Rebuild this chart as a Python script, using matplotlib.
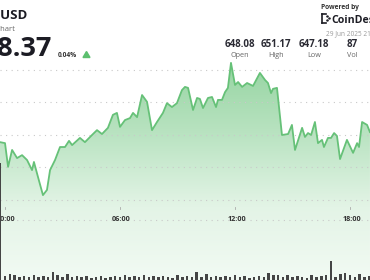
import numpy as np
import matplotlib
matplotlib.use("Agg")
import matplotlib.pyplot as plt
from matplotlib.colors import LinearSegmentedColormap
from matplotlib.patches import Polygon
import matplotlib.transforms as mtransforms

# ---------------- data ----------------
hours = [-0.26, 0.00, 0.16, 0.37, 0.63, 0.89, 1.15, 1.41, 1.51, 1.72, 1.98, 2.19, 2.35, 2.61,
         2.87, 3.13, 3.34, 3.50, 3.91, 4.17, 4.54, 4.80, 5.06, 5.37, 5.63, 5.84, 6.00, 6.26,
         6.52, 6.68, 6.89, 7.15, 7.41, 7.67, 7.93, 8.24, 8.45, 8.71, 8.97, 9.23, 9.39, 9.55,
         9.81, 10.02, 10.17, 10.33, 10.59, 10.80, 11.01, 11.11, 11.32, 11.48, 11.63, 11.79,
         12.00, 12.16, 12.37, 12.63, 12.94, 13.30, 13.57, 13.72, 13.88, 13.98, 14.19, 14.45,
         14.77, 14.97, 15.13, 15.50, 15.65, 15.81, 15.97, 16.17, 16.33, 16.54, 16.64, 16.85,
         17.01, 17.17, 17.32, 17.48, 17.84, 18.16, 18.37, 18.47, 18.63, 18.89, 19.04]
prices = [648.78, 648.75, 648.02, 648.54, 648.29, 648.38, 648.23, 647.92, 648.17, 647.71,
          647.15, 647.31, 647.92, 648.23, 648.63, 648.63, 648.82, 648.69, 648.91, 648.78,
          649.00, 649.15, 649.03, 649.22, 649.62, 649.68, 649.25, 649.46, 649.52, 649.68,
          649.55, 650.23, 650.02, 649.15, 649.40, 649.68, 649.98, 649.86, 649.98, 650.38,
          650.48, 650.45, 649.77, 650.14, 650.11, 649.83, 650.14, 650.17, 649.86, 650.08,
          650.08, 650.32, 650.45, 651.22, 650.54, 650.63, 650.48, 650.60, 650.51, 650.91,
          650.69, 650.60, 650.29, 650.42, 650.45, 649.00, 649.03, 649.31, 648.54, 649.22,
          648.94, 649.06, 649.00, 649.40, 648.75, 648.85, 648.63, 648.91, 648.91, 649.06,
          648.97, 648.26, 648.85, 648.45, 648.75, 648.63, 649.40, 649.31, 649.09]

volumes = [117, 4, 6, 5, 3, 4, 3, 5, 3, 4, 3, 8, 5, 3, 6, 3, 4, 3, 4, 2,
           3, 4, 2, 3, 4, 3, 5, 3, 4, 3, 5, 3, 4, 3, 4, 3, 2, 5, 3, 4,
           3, 8, 3, 6, 3, 4, 3, 4, 3, 5, 3, 4, 2, 3, 4, 3, 7, 5, 5, 3,
           5, 3, 4, 3, 2, 5, 3, 4, 5, 19, 3, 6, 7, 5, 3, 6, 3, 4]
vol_hours = np.arange(len(volumes)) * 0.25 - 0.25

grid_prices = [647, 648, 649, 650, 651]
tick_hours = [0, 6, 12, 18]
tick_labels = ["00:00", "06:00", "12:00", "18:00"]

title = "BNB-USD"
subtitle = "Price Chart"
last_price = "648.37"
change = "0.04%"
stat_values = ["648.08", "651.17", "647.18", "87"]
stat_names = ["Open", "High", "Low", "Vol"]

# ---------------- figure ----------------
W, H = 370, 280
fig = plt.figure(figsize=(W / 100, H / 100), dpi=100)
fig.patch.set_facecolor("white")

ax = fig.add_axes([0, 0, 1, 1])
ax.set_xlim(-0.261, 19.043)
ax.set_ylim(644.538, 653.154)
ax.axis("off")

line_col = "#66c178"

# gradient fill under the line
grad = LinearSegmentedColormap.from_list("g", ["#f2faf3", "#e3f4e6", "#b9e3c1", "#95d4a1"])
img = ax.imshow(np.linspace(0, 1, 256).reshape(-1, 1), cmap=grad, aspect="auto",
                extent=[-0.261, 19.043, 644.538, 651.3], origin="lower", zorder=1)
poly_xy = list(zip(hours, prices)) + [(hours[-1], 644.538), (hours[0], 644.538)]
clip = Polygon(poly_xy, closed=True, transform=ax.transData, facecolor="none", edgecolor="none")
ax.add_patch(clip)
img.set_clip_path(clip)

# dotted grid
for gp in grid_prices:
    ax.axhline(gp, color="#c9c9c9", lw=0.8, ls=(0, (1, 4)), zorder=2)
ax.axhline(646.385, color="#c9c9c9", lw=0.8, ls=(0, (1, 4)), zorder=2)

ax.plot(hours, prices, color=line_col, lw=1.3, zorder=4, solid_joinstyle="round")

# time ticks
trans = mtransforms.blended_transform_factory(ax.transData, fig.transFigure)
for th, tl in zip(tick_hours, tick_labels):
    ax.plot([th, th], [1 - 207 / H, 1 - 209 / H], color="#aaaaaa", lw=0.6,
            transform=trans, zorder=5)
    ax.text(th + 0.08, 1 - 219.5 / H, tl, transform=trans, ha="center", va="center",
            fontsize=5.2, color="#333333", fontweight="bold", family="Open Sans", zorder=6)

# volume bars
vax = fig.add_axes([0, 0, 1, 1], sharex=ax)
vax.set_ylim(0, 280)
vax.axis("off")
vax.patch.set_alpha(0)
vax.bar(vol_hours, volumes, width=0.13, color="#454545", align="center", zorder=3)

# ---------------- header text ----------------
def ftext(x, y, s, **kw):
    fig.text(x / W, 1 - y / H, s, **kw)

ftext(28, 19, title, ha="right", va="baseline", fontsize=9.5, fontweight="bold",
      color="#1c1c24", family="Open Sans")
ftext(15, 31, subtitle, ha="right", va="baseline", fontsize=5.5, color="#666666",
      family="Open Sans")
ftext(51, 56, last_price, ha="right", va="baseline", fontsize=19.5, fontweight="bold",
      color="#1c1c24", family="Open Sans")
ftext(58, 57, change, ha="left", va="baseline", fontsize=4.8, fontweight="bold",
      color="#333333", family="Open Sans")
tri = Polygon([(83 / W, 1 - 57.5 / H), (90 / W, 1 - 57.5 / H), (86.5 / W, 1 - 51.5 / H)],
              closed=True, transform=fig.transFigure, color="#5cbf6f")
fig.patches.append(tri)

# stats
for cx, v, n in zip([240, 276, 314, 352], stat_values, stat_names):
    ftext(cx, 47, v, ha="center", va="baseline", fontsize=7, fontweight="bold",
          color="#2a2a33", family="Open Sans")
    ftext(cx, 57, n, ha="center", va="baseline", fontsize=5.2, color="#666666",
          family="Open Sans")

# branding
ftext(321, 9, "Powered by", ha="left", va="baseline", fontsize=4.8, fontweight="bold",
      color="#333333", family="Open Sans")
ftext(331, 23, "CoinDesk", ha="left", va="baseline", fontsize=7.6, fontweight="bold",
      color="#1c1c24", family="Open Sans")
ftext(326, 35, "29 Jun 2025 21:00", ha="left", va="baseline", fontsize=4.7,
      color="#9a9a9a", family="Open Sans")
# logo icon
for seg in [[(322, 14), (322, 23)], [(322, 14), (326, 14)], [(322, 23), (326, 23)]]:
    xs = [p[0] / W for p in seg]
    ys = [1 - p[1] / H for p in seg]
    fig.lines.append(plt.Line2D(xs, ys, transform=fig.transFigure, color="#1c1c24", lw=1.2))
for (dx, dy) in [(327.5, 16.5), (327.5, 20.5), (329.5, 18.5)]:
    fig.patches.append(plt.Circle((dx / W, 1 - dy / H), 0.6 / W, transform=fig.transFigure,
                                  color="#1c1c24"))

fig.savefig("out.png", dpi=100, facecolor="white")
